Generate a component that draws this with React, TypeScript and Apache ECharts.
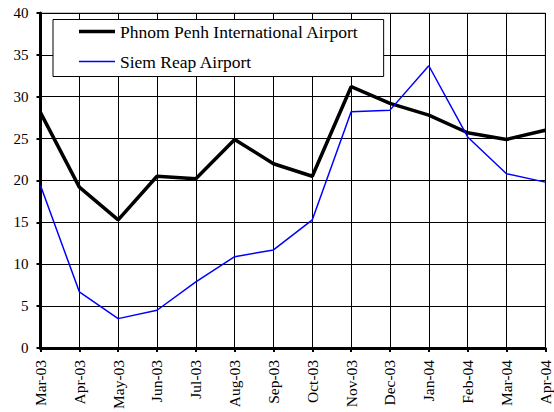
import React, { useEffect, useRef } from "react";
import * as echarts from "echarts";

const categories = ["Mar-03","Apr-03","May-03","Jun-03","Jul-03","Aug-03","Sep-03","Oct-03","Nov-03","Dec-03","Jan-04","Feb-04","Mar-04","Apr-04"];
const phnomPenh = [28.1, 19.2, 15.3, 20.5, 20.2, 24.9, 22.0, 20.5, 31.2, 29.2, 27.8, 25.7, 24.9, 26.0];
const siemReap = [19.4, 6.7, 3.5, 4.5, 7.9, 10.9, 11.7, 15.3, 28.2, 28.4, 33.7, 25.2, 20.8, 19.8];
const seriesNames = ["Phnom Penh International Airport", "Siem Reap Airport"];

const FONT = "Times New Roman, serif";

export default function App() {
  const ref = useRef<HTMLDivElement>(null);
  useEffect(() => {
    if (!ref.current) return;
    const chart = echarts.init(ref.current, undefined, { renderer: "svg" });
    chart.setOption({
      animation: false,
      backgroundColor: "#fff",
      textStyle: { fontFamily: FONT },
      grid: { left: 40.5, right: 8.7, top: 13, bottom: 62.5, show: true, borderColor: "#888", borderWidth: 1 },
      legend: {
        orient: "vertical",
        left: 53,
        top: 19.5,
        itemWidth: 36,
        itemHeight: 14,
        itemGap: 12,
        padding: [3, 25, 6, 26],
        borderColor: "#000",
        borderWidth: 1,
        backgroundColor: "#fff",
        textStyle: { fontFamily: FONT, fontSize: 17.5, lineHeight: 18, color: "#000" },
        data: [
          { name: seriesNames[0], icon: "path://M0,0H36V3.5H0Z", itemStyle: { color: "#000" } },
          { name: seriesNames[1], icon: "path://M0,0H36V1.5H0Z", itemStyle: { color: "#0000ff" } },
        ],
      },
      xAxis: {
        type: "category",
        data: categories,
        boundaryGap: false,
        axisLine: { lineStyle: { color: "#000", width: 3 } },
        axisTick: { show: true, length: 4, lineStyle: { color: "#000", width: 2 } },
        axisLabel: { rotate: 90, fontFamily: FONT, fontSize: 15.5, color: "#000", margin: 12, interval: 0 },
        splitLine: { show: true, lineStyle: { color: "#000", width: 1 } },
      },
      yAxis: {
        type: "value",
        min: 0,
        max: 40,
        interval: 5,
        axisLine: { show: true, lineStyle: { color: "#000", width: 3 } },
        axisTick: { show: true, length: 4, lineStyle: { color: "#000", width: 2 } },
        axisLabel: { fontFamily: FONT, fontSize: 15, color: "#000", margin: 12 },
        splitLine: { show: true, lineStyle: { color: "#000", width: 1 } },
      },
      series: [
        {
          name: seriesNames[0],
          type: "line",
          data: phnomPenh,
          symbol: "none",
          lineStyle: { color: "#000", width: 3.5 },
          itemStyle: { color: "#000" },
        },
        {
          name: seriesNames[1],
          type: "line",
          data: siemReap,
          symbol: "none",
          lineStyle: { color: "#0000ff", width: 1.5 },
          itemStyle: { color: "#0000ff" },
        },
      ],
    });
    return () => chart.dispose();
  }, []);
  return <div ref={ref} style={{ width: 554, height: 412, position: "absolute", left: 0, top: 0 }} />;
}
